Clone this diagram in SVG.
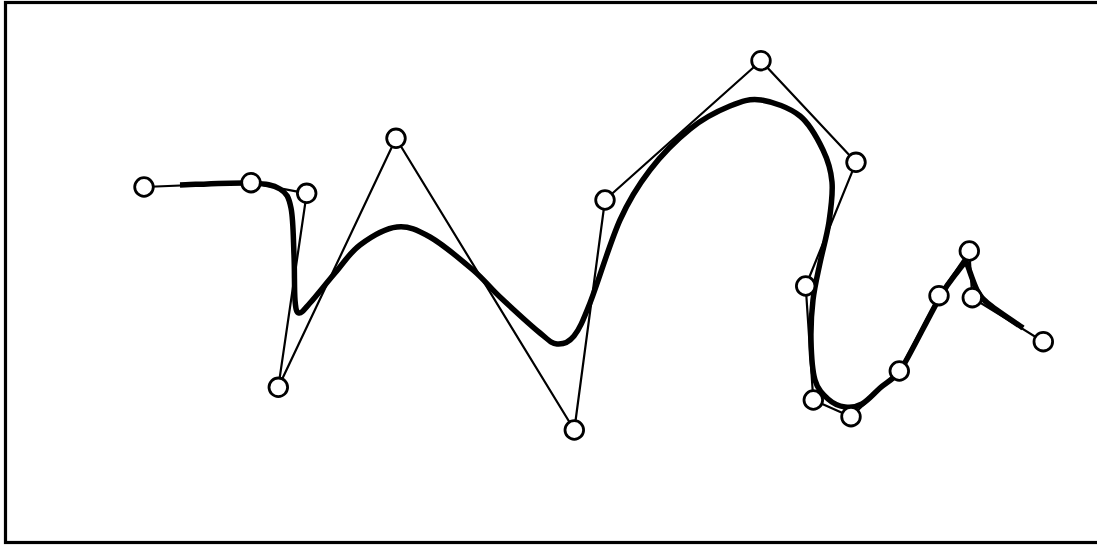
<svg xmlns="http://www.w3.org/2000/svg" width="1097" height="546" viewBox="0 0 1097 546">
<style>
.frame{fill:none;stroke:#000;stroke-width:3.2}
.poly{fill:none;stroke:#000;stroke-width:2.2;stroke-linejoin:round}
.curve{fill:none;stroke:#000;stroke-width:5.5;stroke-linejoin:round;stroke-linecap:butt}
.pt{fill:#fff;stroke:#000;stroke-width:2.8}
</style>
<rect class="frame" x="5.5" y="2.5" width="1100" height="540"/>
<g id="connectors">
<polyline class="poly" points="144,187 251,182.7 306.7,193.3 278.3,387.3 396,138.3 574.3,430 605,200 761,60.7 856,162.3 805.7,286 813.3,400 851,416.7 899.3,371 939,295.7 969.3,251 972.3,297.7 1043.3,341.7"/>
<path class="curve" d="M180,185 C191.7,184.7 233.3,182.3 250,183 C266.7,183.7 273.2,184.8 280,189 C286.8,193.2 288.7,197 291,208 C293.3,219 293.3,239.7 294,255 C294.7,270.3 294.2,290.3 295,300 C295.8,309.7 296.5,312.5 299,313 C301.5,313.5 304,309.7 310,303 C316,296.3 326.7,282.7 335,273 C343.3,263.3 349.7,252.7 360,245 C370.3,237.3 385.3,228.3 397,227 C408.7,225.7 417.3,229.8 430,237 C442.7,244.2 461.3,260 473,270 C484.7,280 488.8,286.5 500,297 C511.2,307.5 530.5,325.2 540,333 C549.5,340.8 551.3,343.5 557,344 C562.7,344.5 568.5,342.8 574,336 C579.5,329.2 582.3,322.3 590,303 C597.7,283.7 610,242.2 620,220 C630,197.8 638.3,185.2 650,170 C661.7,154.8 676.7,139.7 690,129 C703.3,118.3 718.2,110.8 730,106 C741.8,101.2 749.3,98.3 761,100 C772.7,101.7 789.7,107.7 800,116 C810.3,124.3 817.7,139 823,150 C828.3,161 831,170 832,182 C833,194 831,208.5 829,222 C827,235.5 822.7,250 820,263 C817.3,276 814.5,287.2 813,300 C811.5,312.8 810.7,326.7 811,340 C811.3,353.3 812.2,370.2 815,380 C817.8,389.8 823,394.5 828,399 C833,403.5 839.3,406.2 845,407 C850.7,407.8 856.2,407.2 862,404 C867.8,400.8 874,393.5 880,388 C886,382.5 894,379 900,371 C906,363 930.3,313.7 940,297 C949.7,280.3 953.7,276.8 958,271 C962.3,265.2 965,262 966,262 C967,262 973,282.8 977,290 C981,297.2 982.3,298.7 990,305 C997.7,311.3 1017.5,324.2 1023,328"/>
</g>
<g id="p0"><circle class="pt" cx="144" cy="187" r="9.3"/></g>
<g id="p1"><circle class="pt" cx="251" cy="182.7" r="9.3"/></g>
<g id="p2"><circle class="pt" cx="306.7" cy="193.3" r="9.3"/></g>
<g id="p3"><circle class="pt" cx="278.3" cy="387.3" r="9.3"/></g>
<g id="p4"><circle class="pt" cx="396" cy="138.3" r="9.3"/></g>
<g id="p5"><circle class="pt" cx="574.3" cy="430" r="9.3"/></g>
<g id="p6"><circle class="pt" cx="605" cy="200" r="9.3"/></g>
<g id="p7"><circle class="pt" cx="761" cy="60.7" r="9.3"/></g>
<g id="p8"><circle class="pt" cx="856" cy="162.3" r="9.3"/></g>
<g id="p9"><circle class="pt" cx="805.7" cy="286" r="9.3"/></g>
<g id="p10"><circle class="pt" cx="813.3" cy="400" r="9.3"/></g>
<g id="p11"><circle class="pt" cx="851" cy="416.7" r="9.3"/></g>
<g id="p12"><circle class="pt" cx="899.3" cy="371" r="9.3"/></g>
<g id="p13"><circle class="pt" cx="939" cy="295.7" r="9.3"/></g>
<g id="p14"><circle class="pt" cx="969.3" cy="251" r="9.3"/></g>
<g id="p15"><circle class="pt" cx="972.3" cy="297.7" r="9.3"/></g>
<g id="p16"><circle class="pt" cx="1043.3" cy="341.7" r="9.3"/></g>
</svg>
